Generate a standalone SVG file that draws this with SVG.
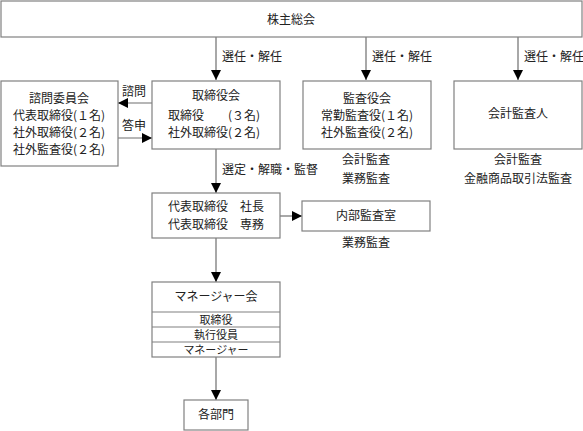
<svg xmlns="http://www.w3.org/2000/svg" width="583" height="431" viewBox="0 0 583 431">
<style>
.b{fill:#fff;stroke:#808080;stroke-width:1.2}
.l{stroke:#6e6e6e;stroke-width:1.2;fill:none}
text{font-family:"Noto Sans CJK JP","Noto Sans CJK SC",sans-serif;font-size:12px;fill:#222;text-anchor:middle}
.s{text-anchor:start}
.r{font-size:11px}
</style>
<defs>
<marker id="a" viewBox="0 0 10 10" refX="10" refY="5" markerWidth="10" markerHeight="10" markerUnits="userSpaceOnUse" orient="auto">
<path d="M0,0L10,5L0,10z" fill="#000"/>
</marker>
</defs>
<rect width="583" height="431" fill="#fff"/>
<g id="connectors">
<line class="l" x1="216" y1="37" x2="216" y2="80" marker-end="url(#a)"/>
<line class="l" x1="366" y1="37" x2="366" y2="80" marker-end="url(#a)"/>
<line class="l" x1="518" y1="37" x2="518" y2="80" marker-end="url(#a)"/>
<line class="l" x1="152" y1="103" x2="118" y2="103" marker-end="url(#a)"/>
<line class="l" x1="118" y1="138" x2="152" y2="138" marker-end="url(#a)"/>
<line class="l" x1="216" y1="149" x2="216" y2="193" marker-end="url(#a)"/>
<line class="l" x1="280" y1="216" x2="302" y2="216" marker-end="url(#a)"/>
<line class="l" x1="216" y1="238" x2="216" y2="282" marker-end="url(#a)"/>
<line class="l" x1="216" y1="357" x2="216" y2="400" marker-end="url(#a)"/>
<text class="s" x="222" y="61">選任・解任</text>
<text class="s" x="372" y="61">選任・解任</text>
<text class="s" x="524" y="61">選任・解任</text>
<text x="134" y="96">諮問</text>
<text x="134" y="130">答申</text>
<text class="s" x="222" y="174">選定・解職・監督</text>
</g>
<g id="shareholders">
<rect class="b" x="1" y="1" width="581" height="36"/>
<text x="291" y="24">株主総会</text>
</g>
<g id="advisory">
<rect class="b" x="1" y="81" width="117" height="85"/>
<text x="59" y="103">諮問委員会</text>
<text x="59" y="120">代表取締役(１名)</text>
<text x="59" y="137">社外取締役(２名)</text>
<text x="59" y="154">社外監査役(２名)</text>
</g>
<g id="board">
<rect class="b" x="152" y="81" width="128" height="68"/>
<text x="216" y="100">取締役会</text>
<text class="s" x="168" y="120">取締役　　(３名)</text>
<text class="s" x="168" y="137">社外取締役(２名)</text>
</g>
<g id="auditors">
<rect class="b" x="303" y="81" width="128" height="68"/>
<text x="367" y="103">監査役会</text>
<text x="367" y="120">常勤監査役(１名)</text>
<text x="367" y="137">社外監査役(２名)</text>
<text x="366" y="164">会計監査</text>
<text x="366" y="183">業務監査</text>
</g>
<g id="accounting">
<rect class="b" x="454" y="81" width="128" height="68"/>
<text x="518" y="118">会計監査人</text>
<text x="518" y="164">会計監査</text>
<text x="518" y="183">金融商品取引法監査</text>
</g>
<g id="representative">
<rect class="b" x="152" y="193" width="128" height="45"/>
<text x="216" y="211">代表取締役　社長</text>
<text x="216" y="229">代表取締役　専務</text>
</g>
<g id="internal">
<rect class="b" x="302" y="201" width="128" height="30"/>
<text x="366" y="220">内部監査室</text>
<text x="366" y="247">業務監査</text>
</g>
<g id="managers">
<rect class="b" x="152" y="282" width="128" height="75"/>
<line class="b" x1="152" y1="312" x2="280" y2="312"/>
<line class="b" x1="152" y1="327" x2="280" y2="327"/>
<line class="b" x1="152" y1="342" x2="280" y2="342"/>
<text x="216" y="301">マネージャー会</text>
<text class="r" x="216" y="323.5">取締役</text>
<text class="r" x="216" y="338.5">執行役員</text>
<text class="r" x="216" y="353.5">マネージャー</text>
</g>
<g id="departments">
<rect class="b" x="184" y="400" width="64" height="30"/>
<text x="216" y="419">各部門</text>
</g>
</svg>
